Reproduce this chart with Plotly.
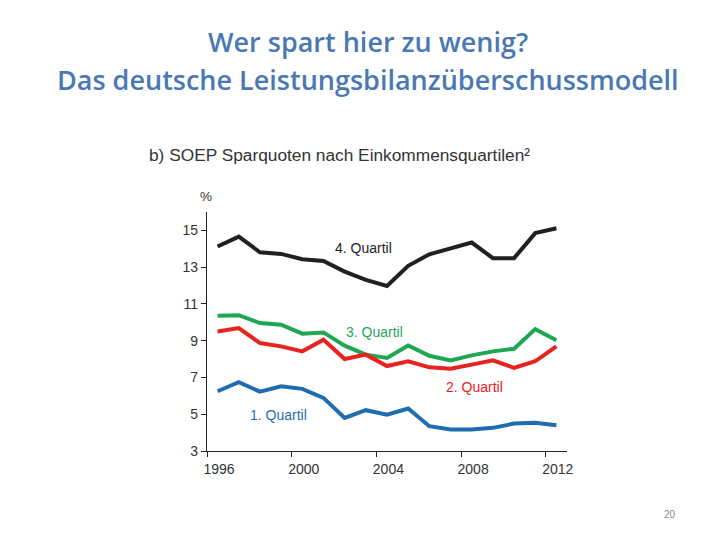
import plotly.graph_objects as go

years = list(range(1996, 2013))
q4 = [14.12, 14.66, 13.81, 13.72, 13.43, 13.34, 12.76, 12.31, 11.98, 13.07, 13.70, 14.03, 14.34, 13.49, 13.49, 14.85, 15.12]
q3 = [10.36, 10.39, 9.96, 9.87, 9.38, 9.45, 8.73, 8.24, 8.06, 8.74, 8.18, 7.93, 8.20, 8.42, 8.56, 9.63, 9.02]
q2 = [9.50, 9.69, 8.87, 8.69, 8.42, 9.05, 8.00, 8.24, 7.62, 7.88, 7.55, 7.48, 7.70, 7.93, 7.52, 7.88, 8.69]
q1 = [6.25, 6.74, 6.23, 6.52, 6.38, 5.89, 4.80, 5.22, 4.97, 5.31, 4.35, 4.17, 4.17, 4.26, 4.49, 4.53, 4.40]

series_names = ["4. Quartil", "3. Quartil", "2. Quartil", "1. Quartil"]
series_vals = [q4, q3, q2, q1]
colors = ["#231f20", "#1fa653", "#e8231f", "#1f6db0"]
label_pos = [(2003.41, 14.03), (2003.93, 9.45), (2008.61, 6.5), (1999.39, 4.98)]

x_ticks = [1996, 2000, 2004, 2008, 2012]
y_ticks = [3, 5, 7, 9, 11, 13, 15]

W, H = 720, 540
OFF = 8  # page body margin
L = 207.3 - OFF
T = 211.7 - OFF
R = W - 567 + OFF
B = H - 451.5 + OFF
pw, ph = W - L - R, H - T - B


def pxp(x):
    return (x - OFF - L) / pw


def pyp(y):
    return (H - B - (y - OFF)) / ph


fig = go.Figure()
xs = [y + 0.5 for y in years]  # data plotted at mid-year
for name, vals, col in zip(series_names, series_vals, colors):
    fig.add_trace(go.Scatter(x=xs, y=vals, mode="lines", name=name,
                             line=dict(color=col, width=4), showlegend=False))

lab_font = "Liberation Sans, Arial"
for name, col, (lx, ly) in zip(series_names, colors, label_pos):
    fig.add_annotation(x=lx, y=ly, xref="x", yref="y", text=name, showarrow=False,
                       xanchor="center", yanchor="middle",
                       font=dict(family=lab_font, size=14, color=col))

fig.add_annotation(x=pxp(206), y=pyp(196), xref="paper", yref="paper", text="%",
                   showarrow=False, xanchor="center", yanchor="middle",
                   font=dict(family=lab_font, size=13.5, color="#333"))

title_font = dict(family="Open Sans, sans-serif", size=27, color="#4a78b4", weight=600)
fig.add_annotation(x=pxp(368), y=pyp(41), xref="paper", yref="paper",
                   text="Wer spart hier zu wenig?", showarrow=False,
                   xanchor="center", yanchor="middle", font=title_font)
fig.add_annotation(x=pxp(368), y=pyp(79), xref="paper", yref="paper",
                   text="Das deutsche Leistungsbilanzüberschussmodell", showarrow=False,
                   xanchor="center", yanchor="middle", font=title_font)
fig.add_annotation(x=pxp(147), y=pyp(155), xref="paper", yref="paper",
                   xanchor="left", yanchor="middle",
                   text="b) SOEP Sparquoten nach Einkommensquartilen²", showarrow=False,
                   font=dict(family=lab_font, size=17.3, color="#333"))
fig.add_annotation(x=pxp(670), y=pyp(515), xref="paper", yref="paper",
                   xanchor="center", yanchor="middle",
                   text="20", showarrow=False,
                   font=dict(family=lab_font, size=10, color="#888"))

fig.update_layout(
    width=W, height=H,
    margin=dict(l=L, r=R, t=T, b=B, pad=0),
    paper_bgcolor="white", plot_bgcolor="white",
    xaxis=dict(range=[1996, 2013], tickvals=x_ticks, ticktext=[str(v) for v in x_ticks],
               showgrid=False, zeroline=False, showline=True, linecolor="#222", linewidth=1.2,
               ticks="outside", ticklen=5, tickcolor="#222", ticklabelshift=12,
               tickfont=dict(family=lab_font, size=14, color="#333")),
    yaxis=dict(range=[3, 16], tickvals=y_ticks, ticktext=[str(v) for v in y_ticks],
               showgrid=False, zeroline=False, showline=True, linecolor="#222", linewidth=1.2,
               ticks="outside", ticklen=5, tickcolor="#222",
               tickfont=dict(family=lab_font, size=14, color="#333")),
)

fig.write_html("out.html")
